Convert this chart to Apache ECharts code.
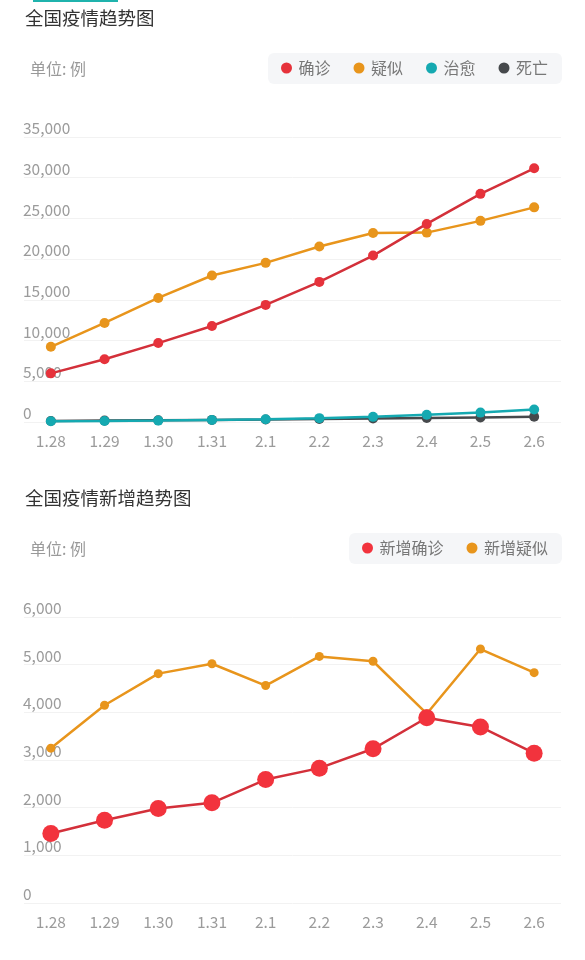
<!DOCTYPE html>
<html>
<head>
<meta charset="utf-8">
<title>全国疫情趋势图</title>
<script src="https://cdn.jsdelivr.net/npm/echarts@6/dist/echarts.min.js"></script>
<style>
  html, body { margin: 0; padding: 0; background: #fff; }
  #chart { width: 585px; height: 960px; }
</style>
</head>
<body>
<div id="chart"></div>
<script>
// 日期
const dates = ['1.28', '1.29', '1.30', '1.31', '2.1', '2.2', '2.3', '2.4', '2.5', '2.6'];

// 累计
const confirmed = [5974, 7711, 9692, 11791, 14380, 17205, 20438, 24324, 28018, 31161];
const suspected = [9239, 12167, 15238, 17988, 19544, 21558, 23214, 23260, 24702, 26359];
const cured = [103, 124, 171, 243, 328, 475, 632, 892, 1153, 1540];
const dead = [132, 170, 213, 259, 304, 361, 425, 490, 563, 636];

// 新增
const newConfirmed = [1459, 1737, 1982, 2102, 2590, 2829, 3235, 3887, 3694, 3143];
const newSuspected = [3248, 4148, 4812, 5019, 4562, 5173, 5072, 3971, 5328, 4833];

const FONT = '"Noto Sans CJK SC", "Noto Sans", sans-serif';
const C = {
  red: '#e6323b',
  redLine: '#d3303a',
  orange: '#e8951c',
  cyan: '#15a9b1',
  dark: '#46494c',
  label: '#9b9b9b',
  grid: '#f2f2f2',
};

const chart = echarts.init(document.getElementById('chart'));

function xAxis(gridIndex) {
  return {
    type: 'category',
    gridIndex,
    data: dates,
    boundaryGap: true,
    axisLine: { show: false },
    axisTick: { show: false },
    axisLabel: { color: C.label, fontSize: 15.5, fontFamily: FONT, margin: 11 },
  };
}

function yAxis(gridIndex, max, interval) {
  return {
    type: 'value',
    gridIndex,
    min: 0,
    max,
    interval,
    axisLine: { show: false },
    axisTick: { show: false },
    splitLine: { lineStyle: { color: C.grid, width: 1 } },
    axisLabel: {
      inside: true,
      margin: -1,
      verticalAlign: 'bottom',
      padding: [0, 0, 1, 0],
      color: C.label,
      fontSize: 15.5,
      fontFamily: FONT,
      formatter: (v) => v.toLocaleString('en-US'),
    },
  };
}

function legend(top, names, colors) {
  return {
    top,
    right: 23,
    data: names.map((n, i) => ({ name: n, itemStyle: { color: colors[i] } })),
    icon: 'circle',
    itemWidth: 14,
    itemHeight: 11,
    itemGap: 23,
    padding: [7, 14, 8, 13],
    backgroundColor: '#f5f6f8',
    borderRadius: 6,
    textStyle: { color: '#777', fontSize: 16, fontFamily: FONT },
    selectedMode: false,
  };
}

function line(name, data, xi, color, lineColor, size, z) {
  return {
    name,
    type: 'line',
    xAxisIndex: xi,
    yAxisIndex: xi,
    data,
    symbol: 'circle',
    symbolSize: size,
    z,
    lineStyle: { color: lineColor, width: 2.5 },
    itemStyle: { color },
  };
}

const titleStyle = { color: '#333', fontSize: 18.5, fontWeight: 'normal', fontFamily: FONT };
const unitStyle = { color: '#999', fontSize: 16, fontWeight: 'normal', fontFamily: FONT };

chart.setOption({
  animation: false,
  backgroundColor: '#fff',
  textStyle: { fontFamily: FONT },
  title: [
    { text: '全国疫情趋势图', left: 20, top: 4, textStyle: titleStyle },
    { text: '单位: 例', left: 25, top: 56, textStyle: unitStyle },
    { text: '全国疫情新增趋势图', left: 20, top: 484, textStyle: titleStyle },
    { text: '单位: 例', left: 25, top: 536, textStyle: unitStyle },
  ],
  graphic: [
    { type: 'rect', left: 33, top: 0, shape: { width: 85, height: 2 }, style: { fill: '#1fb3ad' } },
  ],
  legend: [
    legend(53, ['确诊', '疑似', '治愈', '死亡'], [C.red, C.orange, C.cyan, C.dark]),
    legend(533, ['新增确诊', '新增疑似'], ['#f2333d', C.orange]),
  ],
  grid: [
    { left: 24, right: 24, top: 137, height: 285, containLabel: false, outerBoundsMode: 'none' },
    { left: 24, right: 24, top: 617, height: 286, containLabel: false, outerBoundsMode: 'none' },
  ],
  xAxis: [xAxis(0), xAxis(1)],
  yAxis: [yAxis(0, 35000, 5000), yAxis(1, 6000, 1000)],
  series: [
    line('确诊', confirmed, 0, C.red, C.redLine, 10, 5),
    line('疑似', suspected, 0, C.orange, C.orange, 10, 4),
    line('治愈', cured, 0, C.cyan, C.cyan, 10, 3),
    line('死亡', dead, 0, C.dark, C.dark, 10, 2),
    line('新增确诊', newConfirmed, 1, '#f2333d', C.redLine, 17, 5),
    line('新增疑似', newSuspected, 1, C.orange, C.orange, 9, 4),
  ],
});
</script>
</body>
</html>
